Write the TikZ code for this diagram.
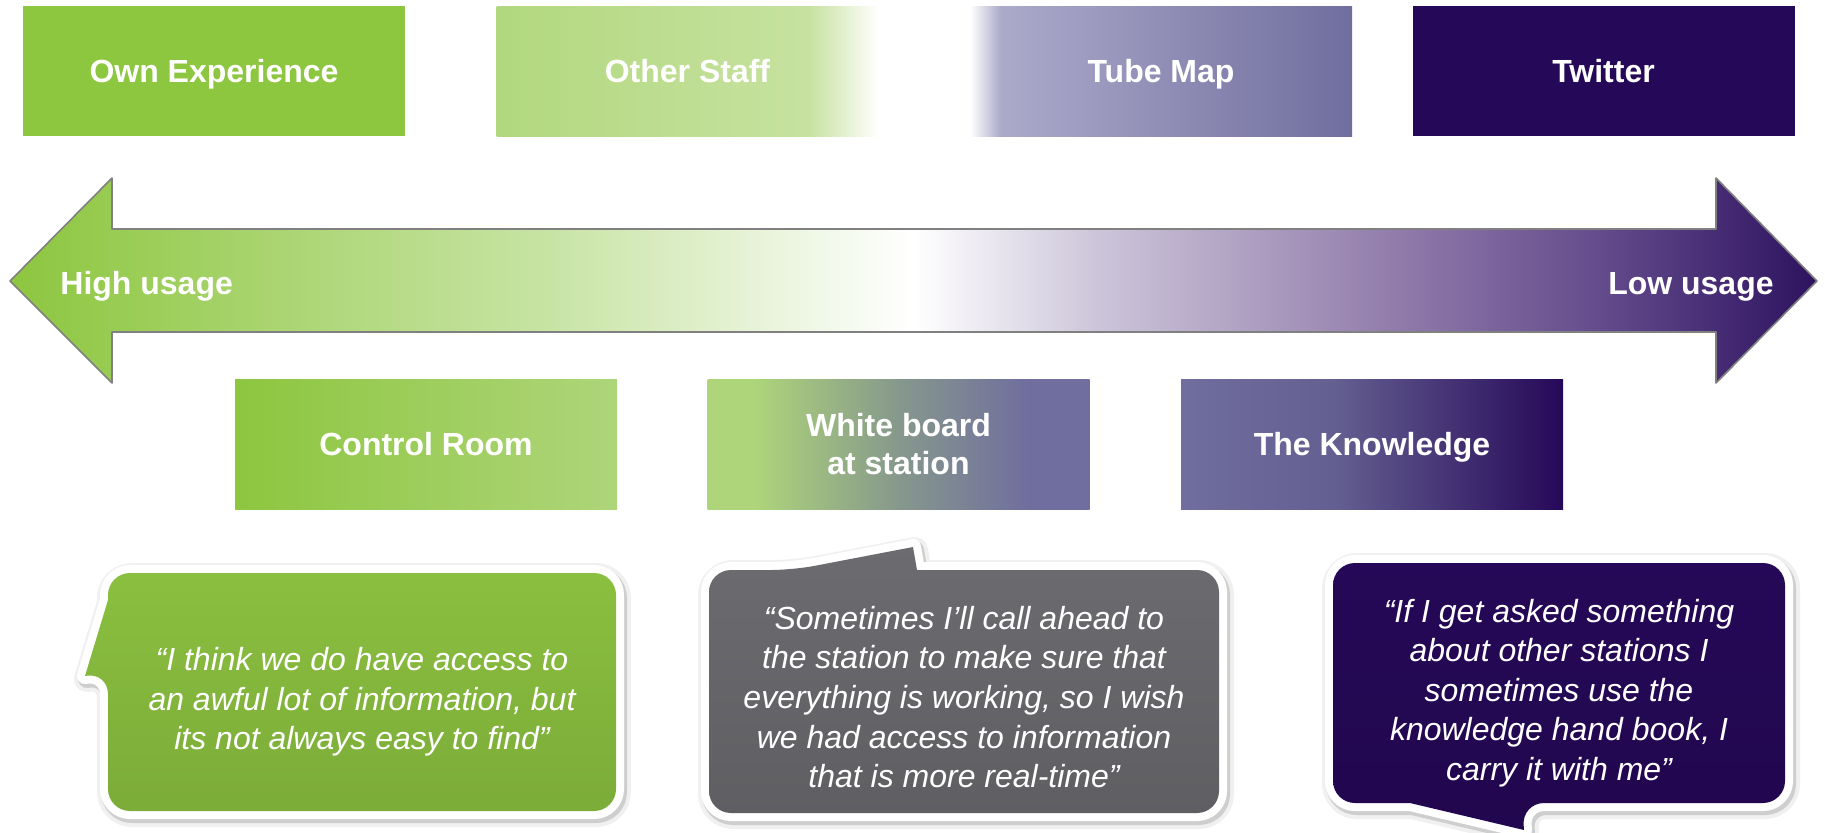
\documentclass[tikz,border=0pt]{standalone}
\usepackage{fontspec}
\setmainfont{Liberation Sans}
\usetikzlibrary{positioning}
\definecolor{ugreen}{RGB}{141,198,63}
\definecolor{lgreen}{RGB}{174,213,122}
\definecolor{spurple}{RGB}{112,110,158}
\definecolor{dpurple}{RGB}{37,8,87}
\definecolor{gbub}{RGB}{138,191,63}
\definecolor{kbub}{RGB}{108,108,112}
% gradients, the path fills 25bp--75bp
\pgfdeclarehorizontalshading{staffshade}{100bp}{color(0bp)=(rgb,255:red,177;green,216;blue,126); color(25bp)=(rgb,255:red,177;green,216;blue,126); color(66bp)=(rgb,255:red,199;green,226;blue,160); color(75bp)=(white); color(100bp)=(white)}
\pgfdeclarehorizontalshading{tubeshade}{100bp}{color(0bp)=(white); color(25bp)=(white); color(29bp)=(rgb,255:red,172;green,170;blue,202); color(75bp)=(spurple); color(100bp)=(spurple)}
\pgfdeclarehorizontalshading{boardshade}{100bp}{color(0bp)=(lgreen); color(25bp)=(lgreen); color(31bp)=(lgreen); color(50bp)=(rgb,255:red,134;green,152;blue,140); color(67bp)=(spurple); color(100bp)=(spurple)}
\pgfdeclarehorizontalshading{knowshade}{100bp}{color(0bp)=(spurple); color(25bp)=(spurple); color(45bp)=(rgb,255:red,100;green,95;blue,145); color(75bp)=(rgb,255:red,38;green,8;blue,88); color(100bp)=(rgb,255:red,38;green,8;blue,88)}
\pgfdeclarehorizontalshading{usageshade}{100bp}{color(0bp)=(ugreen); color(25bp)=(ugreen); color(40bp)=(rgb,255:red,200;green,228;blue,165); color(50bp)=(white); color(55bp)=(rgb,255:red,205;green,198;blue,218); color(62bp)=(rgb,255:red,155;green,135;blue,178); color(69bp)=(rgb,255:red,100;green,75;blue,140); color(75bp)=(rgb,255:red,45;green,18;blue,95); color(100bp)=(rgb,255:red,45;green,18;blue,95)}

\begin{document}
\begin{tikzpicture}[x=0.5pt,y=-0.5pt,line join=round,
  lbl/.style={text=white,font=\bfseries\fontsize{16}{19}\selectfont,align=center},
  oneline/.style={text height=11.5pt,text depth=0pt},
  boxbase/.style={lbl,minimum width=191pt,minimum height=65pt,inner sep=0pt},
  srcbox/.style={boxbase,oneline},
  quotetext/.style={text=white,font=\itshape\fontsize{16}{19.8}\selectfont,align=center},
  bubble/.style={preaction={draw=black,opacity=.06,line width=13pt,transform canvas={xshift=1pt,yshift=-1.5pt}},
    preaction={fill=black,draw=black,opacity=.14,line width=9pt,transform canvas={xshift=1pt,yshift=-1.5pt}},
    preaction={draw=white,line width=8pt}}]
\useasboundingbox (0,0) rectangle (1825,832);
% sources, top row
\node[srcbox,fill=ugreen] (own) at (214,71) {Own Experience};
\node[srcbox,shading=staffshade] (staff) at (687.5,71) {Other Staff};
\node[srcbox,shading=tubeshade] (tube) at (1161,71) {Tube Map};
\node[srcbox,fill=dpurple] (twitter) at (1603.5,71) {Twitter};
% usage arrow
\draw[draw=black!50,line width=0.8pt,shading=usageshade] (10,281) -- (112,178) -- (112,229) -- (1716,229) -- (1716,178) -- (1817,281)
  -- (1716,383) -- (1716,332) -- (112,332) -- (112,383) -- cycle;
\node[lbl,oneline,inner sep=0pt,anchor=west] (high) at (60,283) {High usage};
\node[lbl,oneline,inner sep=0pt,anchor=east] (low) at (1774,283) {Low usage};
% sources, bottom row
\node[srcbox,left color=ugreen,right color=lgreen] (control) at (426,444) {Control Room};
\node[boxbase,shading=boardshade] (board) at (898.5,444) {White board\\at station};
\node[srcbox,shading=knowshade] (know) at (1372,444) {The Knowledge};
% speech bubbles
\path[bubble,top color=gbub,middle color=gbub,bottom color=gbub!90!black] (108,600) [rounded corners=11pt] -- (108,573) -- (616,573)
  -- (616,811) -- (108,811) -- (108,672) [sharp corners] -- (85,676) -- cycle;
\path[bubble,top color=kbub,middle color=kbub,bottom color=kbub!88!black] (917,570) [rounded corners=11pt] -- (1219,570) -- (1219,813)
  -- (709,813) -- (709,570) -- (793,570) [sharp corners] -- (913,547) -- cycle;
\path[bubble,top color=dpurple,middle color=dpurple,bottom color=dpurple!90!black] (1410,803) [rounded corners=11pt] -- (1333,803)
  -- (1333,563) -- (1785,563) -- (1785,803) -- (1522,803) [sharp corners] -- (1524,830) -- cycle;
\node[quotetext] (q1) at (362,702) {“I think we do have access to\\an awful lot of information, but\\its not always easy to find”};
\node[quotetext] (q2) at (964,697) {“Sometimes I’ll call ahead to\\the station to make sure that\\everything is working, so I wish\\we had access to information\\that is more real-time”};
\node[quotetext] (q3) at (1559,693) {“If I get asked something\\about other stations I\\sometimes use the\\knowledge hand book, I\\carry it with me”};
\end{tikzpicture}
\end{document}
